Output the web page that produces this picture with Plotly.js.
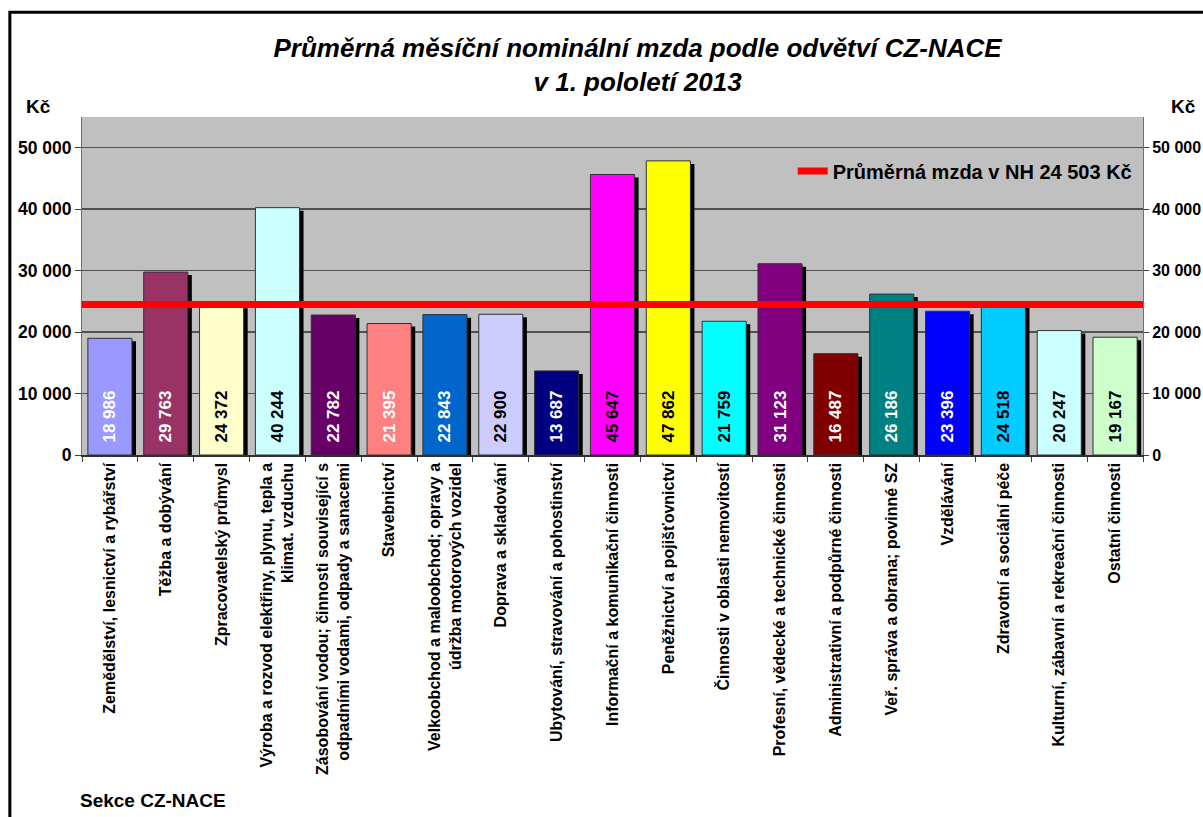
<!DOCTYPE html>
<html>
<head>
<meta charset="utf-8">
<script src="https://cdn.plot.ly/plotly-3.0.1.min.js"></script>
<style>
  body { margin: 0; background: #fff; }
  #chart { width: 1203px; height: 817px; }
</style>
</head>
<body>
<div id="chart"></div>
<script>
// odvětví CZ-NACE (popisky jako v grafu, dlouhé zalomené)
const sekce = [
  'Zemědělství, lesnictví a rybářství',
  'Těžba a dobývání',
  'Zpracovatelský průmysl',
  'Výroba a rozvod elektřiny, plynu, tepla a<br>klimat. vzduchu',
  'Zásobování vodou; činnosti související s<br>odpadními vodami, odpady a sanacemi',
  'Stavebnictví',
  'Velkoobchod a maloobchod; opravy a<br>údržba motorových vozidel',
  'Doprava a skladování',
  'Ubytování, stravování a pohostinství',
  'Informační a komunikační činnosti',
  'Peněžnictví a pojišťovnictví',
  'Činnosti v oblasti nemovitostí',
  'Profesní, vědecké a technické činnosti',
  'Administrativní a podpůrné činnosti',
  'Veř. správa a obrana; povinné SZ',
  'Vzdělávání',
  'Zdravotní a sociální péče',
  'Kulturní, zábavní a rekreační činnosti',
  'Ostatní činnosti'
];

// průměrná mzda v Kč
const mzda = [18986, 29763, 24372, 40244, 22782, 21395, 22843, 22900, 13687,
              45647, 47862, 21759, 31123, 16487, 26186, 23396, 24518, 20247, 19167];

const barvy = ['#9999FF', '#993366', '#FFFFCC', '#CCFFFF', '#660066', '#FF8080', '#0066CC',
               '#CCCCFF', '#000080', '#FF00FF', '#FFFF00', '#00FFFF', '#800080', '#800000',
               '#008080', '#0000FF', '#00CCFF', '#CCFFFF', '#CCFFCC'];

const barvyTextu = ['#fff', '#fff', '#000', '#000', '#fff', '#fff', '#fff', '#000', '#fff',
                    '#000', '#000', '#000', '#fff', '#fff', '#fff', '#fff', '#000', '#000', '#000'];

const prumerNH = 24503;
const yTicks = [0, 10000, 20000, 30000, 40000, 50000];

// geometrie sloupců
const sirka = 0.79;
const stinDx = 0.072;   // ~4 px doprava
const stinDy = -490;    // ~3 px dolu

const FONT = 'Arial, "Liberation Sans", sans-serif';

let stin = {
  type: 'bar',
  x: sekce,
  y: mzda,
  base: stinDy,
  width: sirka,
  offset: -sirka / 2 + stinDx,
  marker: { color: '#000' },
  hoverinfo: 'skip',
  showlegend: false
};

let sloupce = {
  type: 'bar',
  x: sekce,
  y: mzda,
  width: sirka,
  offset: -sirka / 2,
  marker: { color: barvy, line: { color: '#303030', width: 1 } },
  texttemplate: '\u00a0\u00a0%{y:,d}',
  textposition: 'inside',
  insidetextanchor: 'start',
  textangle: -90,
  textfont: { family: FONT, size: 17, weight: 'bold', color: barvyTextu },
  showlegend: false
};

let prumer = {
  type: 'scatter',
  mode: 'lines',
  x: [0, 1],
  y: [prumerNH, prumerNH],
  xaxis: 'x2',
  yaxis: 'y2',
  line: { color: '#FF0000', width: 7 },
  name: 'Průměrná mzda v NH ' + prumerNH.toLocaleString('cs-CZ').replace(/\s/g, ' ') + ' Kč'
};

let osaY = {
  range: [0, 55000],
  tickvals: yTicks,
  tickformat: ',d',
  ticks: 'outside',
  ticklen: 6,
  tickcolor: '#404040',
  showgrid: true,
  gridcolor: '#505050',
  gridwidth: 1.5,
  zeroline: false,
  showline: true,
  linecolor: '#707070',
  linewidth: 1,
  tickfont: { family: FONT, size: 17.5, weight: 'bold', color: '#000' },
  fixedrange: true
};

let layout = {
  width: 1203,
  height: 817,
  margin: { l: 82, r: 60, t: 117, b: 362 },
  paper_bgcolor: '#FFFFFF',
  plot_bgcolor: '#C0C0C0',
  separators: ', ',
  barmode: 'overlay',
  font: { family: FONT, color: '#000' },
  title: {
    text: '<b><i>Průměrná měsíční nominální mzda podle odvětví CZ-NACE<br>v 1. pololetí 2013</i></b>',
    font: { family: FONT, size: 26, color: '#000' },
    x: 0.53, xanchor: 'center',
    yref: 'container', y: 0.93, yanchor: 'top'
  },
  xaxis: {
    type: 'category',
    tickson: 'boundaries',
    ticks: 'outside',
    ticklen: 5,
    tickcolor: '#404040',
    tickangle: -90,
    showline: true,
    linecolor: '#303030',
    linewidth: 1.5,
    showgrid: false,
    tickfont: { family: FONT, size: 16, weight: 'bold', color: '#000' },
    automargin: false
  },
  xaxis2: { overlaying: 'x', range: [0, 1], visible: false },
  yaxis: osaY,
  yaxis2: Object.assign({}, osaY, {
    overlaying: 'y', side: 'right', showgrid: false, ticklen: 5,
    tickfont: { family: FONT, size: 16, weight: 'bold', color: '#000' }
  }),
  showlegend: true,
  legend: {
    x: 0.995, xanchor: 'right',
    y: 0.84, yanchor: 'middle',
    bgcolor: 'rgba(0,0,0,0)',
    font: { family: FONT, size: 20, weight: 'bold', color: '#000' }
  },
  annotations: [
    { text: '<b>Kč</b>', xref: 'paper', yref: 'paper', x: -0.041, y: 1.032,
      xanchor: 'center', yanchor: 'middle', showarrow: false, font: { family: FONT, size: 19 } },
    { text: '<b>Kč</b>', xref: 'paper', yref: 'paper', x: 1.038, y: 1.03,
      xanchor: 'center', yanchor: 'middle', showarrow: false, font: { family: FONT, size: 19 } },
    { text: '<b>Sekce CZ-NACE</b>', xref: 'paper', yref: 'paper', x: -0.004, y: -1.021,
      xanchor: 'left', yanchor: 'middle', showarrow: false, font: { family: FONT, size: 19 } }
  ],
  shapes: [
    // černý rámeček kolem grafu (vpravo a dole je obrázek oříznutý)
    { type: 'rect', xref: 'paper', yref: 'paper', x0: -0.068, x1: 2, y0: -2, y1: 1.31,
      line: { color: '#000', width: 3 }, fillcolor: 'rgba(0,0,0,0)' }
  ]
};

Plotly.newPlot('chart', [stin, sloupce, prumer], layout, { displayModeBar: false, staticPlot: true });
</script>
</body>
</html>
